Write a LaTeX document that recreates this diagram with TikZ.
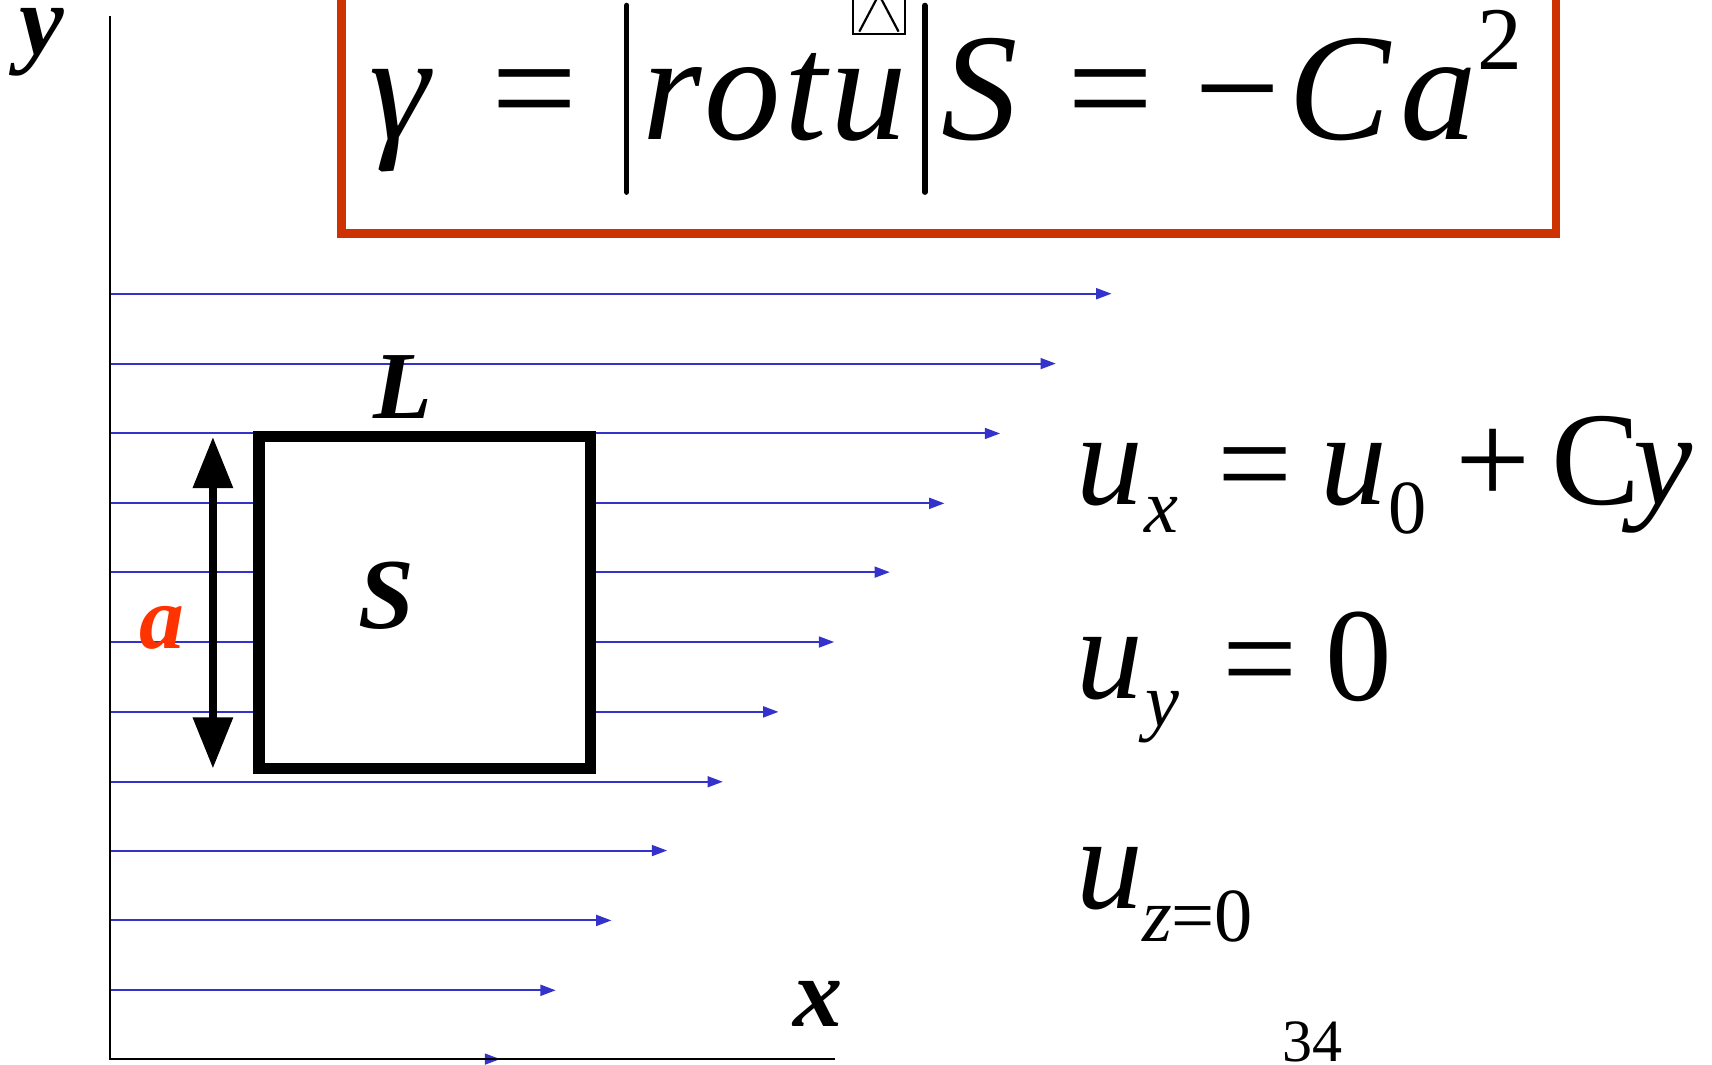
\documentclass[tikz,border=0pt]{standalone}
\usepackage{fontspec}
\setmainfont{Liberation Serif}[
  UprightFont = {Liberation Serif},
  ItalicFont = {Liberation Serif Italic},
  BoldFont = {Liberation Serif Bold},
  BoldItalicFont = {Liberation Serif Bold Italic}]
\usetikzlibrary{arrows.meta}
\definecolor{flowblue}{RGB}{51,51,204}
\definecolor{boxred}{RGB}{204,51,0}
\definecolor{lblred}{RGB}{255,51,0}
\newcommand{\fsTop}{\fontsize{140}{140}\selectfont}
\newcommand{\fsSup}{\fontsize{82}{82}\selectfont}
\newcommand{\fsEq}{\fontsize{122}{122}\selectfont}
\newcommand{\fsSub}{\fontsize{70}{70}\selectfont}
\newcommand{\fsLbl}{\fontsize{92}{92}\selectfont}
\newcommand{\fsPg}{\fontsize{55}{55}\selectfont}
\tikzset{
  txt/.style={inner sep=0pt, outer sep=0pt, anchor=base west},
  flow/.style={draw=flowblue, line width=1.8pt, -{Triangle[length=14pt,width=10pt]}, color=flowblue},
  axisline/.style={draw=black, line width=1.6pt},
  dblarrow/.style={line width=8pt, {Triangle[length=47pt,width=35pt]}-{Triangle[length=47pt,width=35pt]}},
  bar/.style={line width=5pt, line cap=round}
}
\begin{document}
\begin{tikzpicture}[x=1pt, y=-1pt]
\useasboundingbox (0,0) rectangle (1568,975);
\clip (0,0) rectangle (1568,975);
\fill[white] (0,0) rectangle (1568,975);

% flow arrows
\foreach \i/\yy/\xe in {1/269/1018, 2/333/967, 3/397/916, 4/461/865, 5/524/815, 6/588/764, 7/652/713, 8/716/662, 9/779/611, 10/843/560, 11/907/509, 12/970/458}{
  \coordinate (fs\i) at (101,\yy);
  \coordinate (fe\i) at (\xe,\yy);
  \draw[flow] (fs\i) -- (fe\i);
}

% axes
\coordinate (ytop) at (101,15);
\coordinate (orig) at (101,970);
\coordinate (xend) at (765,970);
\draw[axisline] (ytop) -- (orig) -- (xend);
\node[txt, font=\fontsize{92}{92}\selectfont\bfseries\itshape] (ylbl) at (18,50) {y};
\node[txt, font=\fontsize{90}{90}\selectfont\bfseries\itshape] (xlbl) at (727,940) {x};

% square
\node[draw=black, line width=10.5pt, fill=white, minimum width=304pt, minimum height=304pt, inner sep=0pt] (sq) at (389,552) {};
\node[txt, font=\fsLbl\bfseries\itshape] (slbl) at (328,576) {S};
\node[txt, font=\fontsize{88}{88}\selectfont\bfseries\itshape] (llbl) at (342,383) {L};

% dimension arrow
\coordinate (dtop) at (195,400);
\coordinate (dbot) at (195,704);
\draw[dblarrow] (dtop) -- (dbot);
\node[txt, font=\fontsize{82}{82}\selectfont\bfseries\itshape, text=lblred] (albl) at (128,594) {a};

% red formula box
\draw[boxred, line width=8pt] (313,-30) rectangle (1425,214);
\node[txt, font=\fsTop\itshape] (gam) at (338,128) {γ};
\node[txt, font=\fsTop] (eq1) at (450,128) {=};
\coordinate (b1t) at (574,5); \coordinate (b1b) at (574,176);
\draw[bar] (b1t) -- (b1b);
\node[txt, font=\fsTop\itshape] (rotu) at (588,128) {r\kern3pt o\kern3pt t\kern3pt u};
\draw[line width=2pt] (781,-5) rectangle (829,31);
\draw[line width=2pt] (787,29) -- (805,-5) -- (823,29);
\coordinate (b2t) at (847,5); \coordinate (b2b) at (847,176);
\draw[bar] (b2t) -- (b2b);
\node[txt, font=\fsTop\itshape] (sS) at (862,128) {S};
\node[txt, font=\fsTop] (eq2) at (978,128) {=};
\node[txt, font=\fsTop] (minus) at (1094,128) {−};
\node[txt, font=\fsTop\itshape] (cC) at (1180,128) {C};
\node[txt, font=\fsTop\itshape] (aa) at (1283,128) {a};
\node[txt, font=\fsSup] (two) at (1353,64) {2};

% right equations
\node[txt, font=\fsEq\itshape] (u1) at (986,462) {u};
\node[txt, font=\fsSub\itshape] (s1) at (1048,488) {x};
\node[txt, font=\fsEq] (e1) at (1115,466) {=};
\node[txt, font=\fsEq\itshape] (u0) at (1209,462) {u};
\node[txt, font=\fsSub] (z0) at (1272,489) {0};
\node[txt, font=\fsEq] (pl) at (1333,462) {+};
\node[txt, font=\fsEq] (cc) at (1421,462) {C};
\node[txt, font=\fsEq\itshape] (yy) at (1496,462) {y};

\node[txt, font=\fsEq\itshape] (u2) at (986,640) {u};
\node[txt, font=\fsSub\itshape] (s2) at (1049,665) {y};
\node[txt, font=\fsEq] (e2) at (1120,644) {=};
\node[txt, font=\fsEq] (zr) at (1214,642) {0};

\node[txt, font=\fsEq\itshape] (u3) at (986,832) {u};
\node[txt, font=\fsSub] (s3) at (1046,862) {\itshape z\upshape =0};

% page number
\node[txt, font=\fsPg] (pg) at (1175,972) {34};
\end{tikzpicture}
\end{document}
